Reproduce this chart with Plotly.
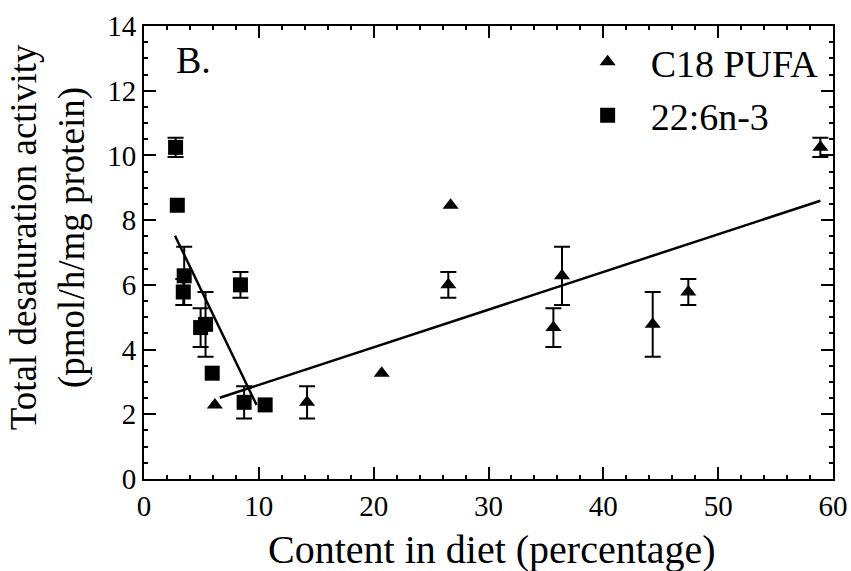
import plotly.graph_objects as go

# Shared y values (activity) and SEM for paired observations (None = no visible bar)
activity = [10.25, 8.46, 6.28, 5.78, 4.68, 4.78, 3.27, 2.37, 2.29, 6.0]
activity_err = [0.3, None, 0.9, 0.4, 0.6, 1.0, None, 0.5, None, 0.4]

# Diet content (%) for each series
c18_pufa_x = [58.9, 26.7, 36.4, 47.4, 35.65, 44.3, 20.7, 14.2, 6.17, 26.5]
dha_x = [2.75, 2.9, 3.5, 3.42, 4.93, 5.36, 5.94, 8.72, 10.55, 8.4]

# Fitted regression lines (endpoints)
fit_c18_x = [6.6, 58.9]
fit_c18_y = [2.51, 8.6]
fit_dha_x = [2.7, 9.8]
fit_dha_y = [7.52, 2.29]

x_ticks = [0, 10, 20, 30, 40, 50, 60]
y_ticks = [0, 2, 4, 6, 8, 10, 12, 14]

FONT = "Liberation Serif"

fig = go.Figure()

fig.add_trace(go.Scatter(
    x=fit_c18_x, y=fit_c18_y, mode="lines",
    line=dict(color="black", width=2.5), showlegend=False, hoverinfo="skip"))
fig.add_trace(go.Scatter(
    x=fit_dha_x, y=fit_dha_y, mode="lines",
    line=dict(color="black", width=2.5), showlegend=False, hoverinfo="skip"))


def with_err(xs):
    idx = [i for i, e in enumerate(activity_err) if e is not None]
    return ([xs[i] for i in idx], [activity[i] for i in idx],
            [activity_err[i] for i in idx])


for xs in (c18_pufa_x, dha_x):
    ex, ey, ee = with_err(xs)
    fig.add_trace(go.Scatter(
        x=ex, y=ey, mode="markers", marker=dict(size=1, opacity=0),
        showlegend=False, hoverinfo="skip",
        error_y=dict(type="data", array=ee, visible=True,
                     color="black", thickness=2, width=8)))

fig.add_trace(go.Scatter(
    x=c18_pufa_x, y=activity, mode="markers", name="C18 PUFA",
    legendgroup="a",
    marker=dict(symbol="triangle-up", size=14, color="black")))
fig.add_trace(go.Scatter(
    x=dha_x, y=activity, mode="markers", name="22:6n-3",
    legendgroup="b",
    marker=dict(symbol="square", size=15, color="black")))

axis_common = dict(
    showline=True, linecolor="black", linewidth=2, mirror="ticks",
    ticks="inside", ticklen=12, tickwidth=2, tickcolor="black",
    showgrid=False, zeroline=False, automargin=False,
    tickfont=dict(family=FONT, size=29, color="black"),
)

fig.update_xaxes(range=[0, 60], tickvals=x_ticks,
                 minor=dict(dtick=2, ticks="inside", ticklen=4, tickwidth=1.5,
                            tickcolor="black"),
                 **axis_common)
fig.update_yaxes(range=[0, 14], tickvals=y_ticks,
                 minor=dict(dtick=0.5, ticks="inside", ticklen=4, tickwidth=1.5,
                            tickcolor="black"),
                 **axis_common)

fig.update_layout(
    width=851, height=571,
    margin=dict(l=144, r=18, t=26, b=92, autoexpand=False),
    paper_bgcolor="white", plot_bgcolor="white",
    font=dict(family=FONT, color="black"),
    legend=dict(x=0.6105, y=0.99, xanchor="left", yanchor="top",
                font=dict(family=FONT, size=38, color="black"),
                traceorder="grouped", tracegroupgap=1, itemwidth=76,
                bgcolor="rgba(0,0,0,0)"),
    annotations=[
        dict(text="B.", x=0.043, y=0.925, xref="paper", yref="paper",
             xanchor="left", yanchor="middle", showarrow=False,
             font=dict(family=FONT, size=38, color="black")),
        dict(text="Content in diet (percentage)", x=0.505, y=-0.155,
             xref="paper", yref="paper", xanchor="center", yanchor="middle",
             showarrow=False, font=dict(family=FONT, size=40, color="black")),
        dict(text="Total desaturation activity<br>(pmol/h/mg protein)",
             x=-0.139, y=0.534, xref="paper", yref="paper",
             xanchor="center", yanchor="middle", textangle=-90,
             showarrow=False, font=dict(family=FONT, size=37, color="black")),
    ],
)

fig.write_html("out.html",
               config={"displayModeBar": False},
               post_script="document.body.style.margin='0';"
                           "document.body.style.overflow='hidden';")
